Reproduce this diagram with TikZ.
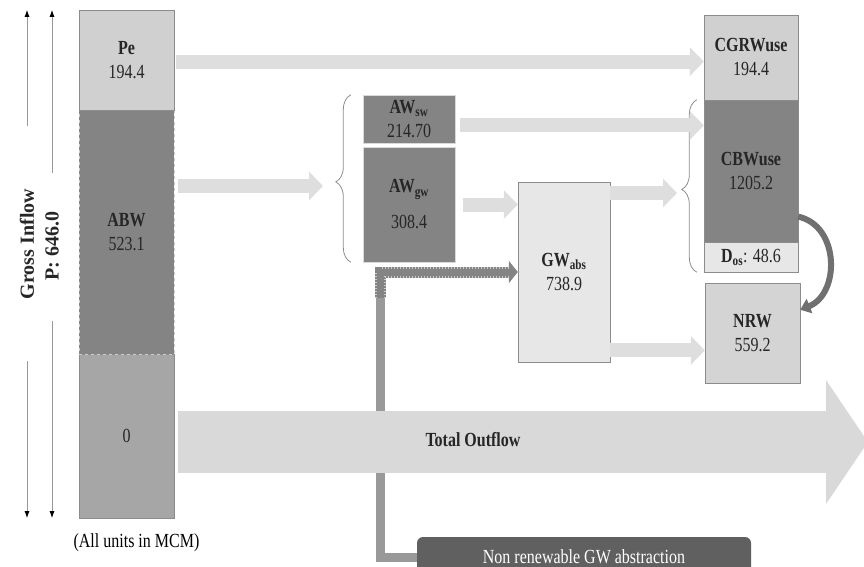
\documentclass[tikz,border=0pt]{standalone}
\usepackage{fontspec}
\setmainfont{Liberation Serif}[FakeStretch=0.8]
\newfontfamily\plainserif{Liberation Serif}
\usepackage{tikz}
\usetikzlibrary{arrows.meta,positioning,calc,decorations.pathreplacing}
\usepackage{xcolor}
\definecolor{pegray}{RGB}{208,208,208}
\definecolor{darkfill}{RGB}{132,132,132}
\definecolor{zerogray}{RGB}{166,166,166}
\definecolor{palegray}{RGB}{231,231,231}
\definecolor{nrwgray}{RGB}{212,212,212}
\definecolor{flowgray}{RGB}{222,222,222}
\definecolor{outgray}{RGB}{217,217,217}
\definecolor{nrboxgray}{RGB}{96,96,96}
\definecolor{linegray}{RGB}{153,153,153}
\definecolor{curlgray}{RGB}{112,112,112}
\definecolor{boxline}{RGB}{140,140,140}
\definecolor{textdark}{RGB}{38,38,38}

\begin{document}
\begin{tikzpicture}[
        x=1pt, y=-1pt,
        font=\fontsize{20}{24}\selectfont,
        colbox/.style={rectangle, draw=boxline, minimum width=95pt, inner sep=0pt, align=center, text=textdark},
        awbox/.style={colbox, fill=darkfill, draw=white!85!black, minimum width=92pt},
        sidelabel/.style={rotate=90, inner sep=0pt, text=textdark, font=\fontsize{20}{24}\plainserif\bfseries},
        dimarrow/.style={draw=linegray, line width=1pt, -{Latex[length=7pt,width=5pt,color=black]}},
        flow/.style={draw=flowgray, line width=14pt, -{Triangle[width=28pt,length=14pt]}},
        outflow/.style={draw=outgray, line width=62pt, -{Triangle[width=122pt,length=42pt]}},
        curlarrow/.style={draw=curlgray, line width=6pt, -{Triangle[width=15pt,length=10pt]}},
        brace/.style={decorate, decoration={brace, amplitude=15pt, aspect=0.48}, draw=boxline, line width=0.8pt},
        nrline/.style={draw=linegray, line width=9pt, line join=miter},
        gwdash/.style={draw=darkfill, line width=11pt, line join=miter, -{Triangle[width=22pt,length=9pt]},
            postaction={draw=white!80!black, -, line width=11pt, shorten >=8pt, dash pattern=on 1.5pt off 1.5pt},
            postaction={draw=darkfill, -, line width=7pt, shorten >=7pt}},
        nrbox/.style={rectangle, fill=nrboxgray, text=white, rounded corners=6pt, minimum width=334pt, minimum height=40pt}
    ]
        \useasboundingbox (0,0) rectangle (864,567);
        \clip (0,0) rectangle (864,567);

        % Inflow column
        \node[colbox, fill=zerogray, minimum height=164pt] (zero) at (126.5,436) {0};
        \node[colbox, fill=darkfill, draw=white!80!black, dashed, minimum height=244pt] (abw) at (126.5,232) {\textbf{ABW}\\523.1};
        \node[colbox, fill=pegray, minimum height=100pt] (pe) at (126.5,60) {\textbf{Pe}\\194.4};
        \node (units) at (136.5,543) {(All units in MCM)};

        % Side labels
        \node[sidelabel] (gi) at (27,244) {Gross Inflow};
        \node[sidelabel] (pin) at (52,246) {P: 646.0};
        \draw[dimarrow] ($(gi.east)+(0,-63)$) -- (gi.east |- pe.north);
        \draw[dimarrow] ($(gi.west)+(0,62)$) -- (gi.west |- zero.south);
        \draw[dimarrow] ($(pin.east)+(0,-38)$) -- (pin.east |- pe.north);
        \draw[dimarrow] ($(pin.west)+(0,40)$) -- (pin.west |- zero.south);

        % Abstraction
        \node[awbox, minimum height=48pt] (aws) at (409,119) {\textbf{AW\textsubscript{sw}}\\214.70};
        \node[awbox, minimum height=115pt] (awg) at (409,204.5) {\textbf{AW\textsubscript{gw}}\\[12pt]308.4};
        \node[colbox, fill=palegray, minimum width=92pt, minimum height=180pt] (gwa) at (564,272) {\textbf{GW\textsubscript{abs}}\\738.9};

        % Use
        \node[colbox, fill=pegray, minimum width=94pt, minimum height=85pt] (cgr) at (751,57.5) {\textbf{CGRWuse}\\194.4};
        \node[colbox, fill=darkfill, minimum width=94pt, minimum height=142pt] (cbw) at (751,171) {\textbf{CBWuse}\\1205.2};
        \node[colbox, fill=palegray, minimum width=94pt, minimum height=30pt] (dos) at (751,257) {\textbf{D\textsubscript{os}}: 48.6};
        \node[colbox, fill=nrwgray, minimum height=100pt] (nrw) at (752.5,333) {\textbf{NRW}\\559.2};

        % Braces
        \draw[brace] ([xshift=-12pt]awg.south west) -- ([xshift=-12pt]aws.north west);
        \draw[brace] ([xshift=-7pt]dos.south west) -- ([xshift=-7pt]cbw.north west);
        \coordinate (awtip) at (323,186);
        \coordinate (cbtip) at (677,193);

        % Flows
        \draw[flow, shorten <=2pt] (pe.east |- cgr.185) -- (cgr.185);
        \draw[flow, shorten <=4pt] (abw.east |- awtip) -- (awtip);
        \draw[flow, shorten <=5pt] (aws.east |- cbw.136) -- (cbw.136);
        \draw[flow, shorten <=8pt] (awg.east) -- (awg.east -| gwa.west);
        \draw[flow] (gwa.east |- cbtip) -- (cbtip);
        \draw[flow] (gwa.east |- nrw.200) -- (nrw.200);
        \draw[curlarrow] (cbw.316) .. controls (840,226) and (840,294) .. (nrw.26);

        % Non renewable GW
        \node[nrbox] (nr) at (584,557) {Non renewable GW abstraction};
        \coordinate (nrbend) at ([xshift=-137pt]gwa.west);
        \draw[nrline] (nr.west) -| ([yshift=-26pt]nrbend);
        \draw[gwdash] ([yshift=-26pt]nrbend) -- (nrbend) -- (gwa.west);

        % Outflow
        \coordinate (outtip) at (868,442);
        \draw[outflow, shorten <=4pt] (zero.east |- outtip) -- (outtip);
        \node[font=\fontsize{20}{24}\selectfont\bfseries, text=textdark] (outlbl) at (473,440) {Total Outflow};

    \end{tikzpicture}
\end{document}
